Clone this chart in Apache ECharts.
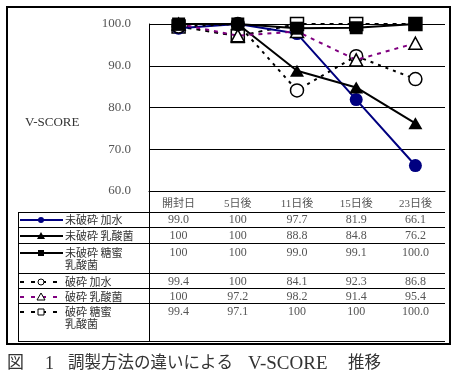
<!DOCTYPE html>
<html><head><meta charset="utf-8">
<script src="https://cdn.jsdelivr.net/npm/echarts@6/dist/echarts.min.js"></script>
<style>html,body{margin:0;padding:0;background:#fff}#c{width:459px;height:384px}</style>
</head><body><div id="c"></div>
<script>
// ---------- data ----------
const categories = ['開封日', '5日後', '11日後', '15日後', '23日後'];
const seriesNames = ['未破砕 加水', '未破砕 乳酸菌', '未破砕 糖蜜 乳酸菌', '破砕 加水', '破砕 乳酸菌', '破砕 糖蜜 乳酸菌'];
const legendLabels = ['未破砕 加水', '未破砕 乳酸菌', '未破砕 糖蜜\n乳酸菌', '破砕 加水', '破砕 乳酸菌', '破砕 糖蜜\n乳酸菌'];
const unMizuValues   = [99.0, 100, 97.7, 81.9, 66.1];
const unNyusanValues = [100, 100, 88.8, 84.8, 76.2];
const unTomitsuValues= [100, 100, 99.0, 99.1, 100.0];
const haMizuValues   = [99.4, 100, 84.1, 92.3, 86.8];
const haNyusanValues = [100, 97.2, 98.2, 91.4, 95.4];
const haTomitsuValues= [99.4, 97.1, 100, 100, 100.0];
const unMizuLabels   = ['99.0', '100', '97.7', '81.9', '66.1'];
const unNyusanLabels = ['100', '100', '88.8', '84.8', '76.2'];
const unTomitsuLabels= ['100', '100', '99.0', '99.1', '100.0'];
const haMizuLabels   = ['99.4', '100', '84.1', '92.3', '86.8'];
const haNyusanLabels = ['100', '97.2', '98.2', '91.4', '95.4'];
const haTomitsuLabels= ['99.4', '97.1', '100', '100', '100.0'];
const yTicks = [60.0, 70.0, 80.0, 90.0, 100.0];
const yName = 'V-SCORE';
const titleParts = ['図', '1', '調製方法の違いによる', 'V-SCORE', '推移'];

const allValues = [unMizuValues, unNyusanValues, unTomitsuValues, haMizuValues, haNyusanValues, haTomitsuValues];
const allLabels = [unMizuLabels, unNyusanLabels, unTomitsuLabels, haMizuLabels, haNyusanLabels, haTomitsuLabels];

// ---------- styles / layout ----------
const NAVY = '#000080', PURPLE = '#800080';
const numFont = '"Liberation Serif", "Noto Sans CJK JP"';
const cjkFont = '"Liberation Serif", "Noto Sans CJK JP"';
const styles = [
  {color: NAVY, dash: 'solid', symbol: 'circle', size: 13, fill: NAVY, border: NAVY, z: 4},
  {color: '#000', dash: 'solid', symbol: 'triangle', size: [14, 12], fill: '#000', border: '#000', z: 5},
  {color: '#000', dash: 'solid', symbol: 'rect', size: 13, fill: '#000', border: '#000', z: 9},
  {color: '#000', dash: [3, 5], symbol: 'circle', size: 13, fill: '#fff', border: '#000', z: 6},
  {color: PURPLE, dash: [4, 5], symbol: 'triangle', size: [13, 12], fill: '#fff', border: '#000', z: 7},
  {color: '#000', dash: [4, 5], symbol: 'rect', size: 13, fill: '#fff', border: '#000', z: 3}
];
const G = {left: 149, top: 24, right: 445, bottom: 191};
const headerY = 204;
const rowCenters = [220, 236, 253, 282, 297, 312];
const rowLines = [212, 227, 243, 273, 288, 303, 341];
const tableLeft = 18;

const chart = echarts.init(document.getElementById('c'), null, {renderer: 'canvas'});

const xAxes = [{
  type: 'category', data: categories, gridIndex: 0,
  axisLine: {show: true, lineStyle: {color: '#000', width: 1}},
  axisTick: {show: false}, splitLine: {show: false},
  axisLabel: {interval: 0, margin: headerY - G.bottom, verticalAlign: 'middle', fontFamily: cjkFont, fontSize: 11, color: '#555'}
}];
allLabels.forEach((row, i) => {
  xAxes.push({
    type: 'category', data: categories, gridIndex: 0, position: 'bottom',
    offset: rowCenters[i] - G.bottom,
    axisLine: {show: false}, axisTick: {show: false}, splitLine: {show: false},
    axisLabel: {interval: 0, margin: 0, verticalAlign: 'middle', fontFamily: numFont, fontSize: 12, color: '#555',
      formatter: (v, idx) => row[idx]}
  });
});

const series = allValues.map((vals, i) => {
  const s = styles[i];
  return {
    name: seriesNames[i], type: 'line', data: vals, xAxisIndex: 0, yAxisIndex: 0,
    symbol: s.symbol, symbolSize: s.size, showAllSymbol: true,
    lineStyle: {color: s.color, width: 2, type: s.dash},
    itemStyle: {color: s.fill, borderColor: s.border, borderWidth: s.fill === '#fff' ? 1.5 : 0},
    emphasis: {disabled: true}, animation: false, z: s.z
  };
});

// graphic: table lines, legend column, y name, title, outer border
const graphics = [];
const L = (x1, y1, x2, y2, w, extra) => Object.assign({type: 'line', silent: true, z: 1,
  shape: {x1, y1, x2, y2}, style: {stroke: '#000', lineWidth: w || 1}}, extra || {});
graphics.push({type: 'rect', silent: true, z: 0, shape: {x: 7, y: 7, width: 443, height: 337},
  style: {fill: 'none', stroke: '#000', lineWidth: 2}});
graphics.push(L(G.left + 0.5, G.bottom, G.left + 0.5, rowLines[rowLines.length - 1] + 0.5));
graphics.push(L(tableLeft + 0.5, rowLines[0], tableLeft + 0.5, rowLines[rowLines.length - 1] + 0.5));
rowLines.forEach(y => graphics.push(L(tableLeft, y + 0.5, G.right, y + 0.5)));

legendLabels.forEach((lab, i) => {
  const s = styles[i];
  const cy = rowCenters[i];
  graphics.push({type: 'line', silent: true, z: 3, shape: {x1: 20, y1: cy, x2: 63, y2: cy},
    style: {stroke: s.color, lineWidth: 2, lineDash: s.dash === 'solid' ? null : [4, 7]}});
  const mk = {silent: true, z: 4, style: {fill: s.fill, stroke: s.border, lineWidth: s.fill === '#fff' ? 1 : 0}};
  if (s.symbol === 'circle') graphics.push(Object.assign({type: 'circle', shape: {cx: 41, cy: cy, r: 3}}, mk));
  else if (s.symbol === 'rect') graphics.push(Object.assign({type: 'rect', shape: {x: 38, y: cy - 3, width: 6, height: 6}}, mk));
  else graphics.push(Object.assign({type: 'polygon', shape: {points: [[41, cy - 4], [45, cy + 3], [37, cy + 3]]}}, mk));
  graphics.push({type: 'text', silent: true, z: 4, x: 65, y: cy - 6,
    style: {text: lab, fontFamily: '"Noto Sans CJK JP"', fontSize: 11, lineHeight: 12, fill: '#333',
      align: 'left', verticalAlign: 'top', textAlign: 'left', textVerticalAlign: 'top'}});
});

graphics.push({type: 'text', silent: true, x: 25, y: 123,
  style: {text: yName, fontFamily: '"Liberation Serif"', fontSize: 13, fill: '#333',
    align: 'left', verticalAlign: 'middle', textAlign: 'left', textVerticalAlign: 'middle'}});

const titleX = [7, 45, 68, 248, 348];
const titleSize = [17, 18, 16.5, 19, 16.5];
titleParts.forEach((t, i) => graphics.push({type: 'text', silent: true, x: titleX[i], y: 364,
  style: {text: t, fontFamily: '"Liberation Serif", "Noto Sans CJK JP"', fontSize: titleSize[i], fill: '#333',
    align: 'left', verticalAlign: 'middle', textAlign: 'left', textVerticalAlign: 'middle'}}));

chart.setOption({
  animation: false,
  backgroundColor: '#fff',
  grid: {left: G.left, top: G.top, width: G.right - G.left, height: G.bottom - G.top, containLabel: false},
  xAxis: xAxes,
  yAxis: {
    type: 'value', min: yTicks[0], max: yTicks[yTicks.length - 1], interval: yTicks[1] - yTicks[0],
    axisLine: {show: true, lineStyle: {color: '#000', width: 1}}, axisTick: {show: false},
    splitLine: {show: true, lineStyle: {color: '#000', width: 1}},
    axisLabel: {margin: 18, fontFamily: numFont, fontSize: 13, color: '#555', formatter: v => v.toFixed(1)}
  },
  series: series,
  graphic: graphics
});
</script></body></html>
